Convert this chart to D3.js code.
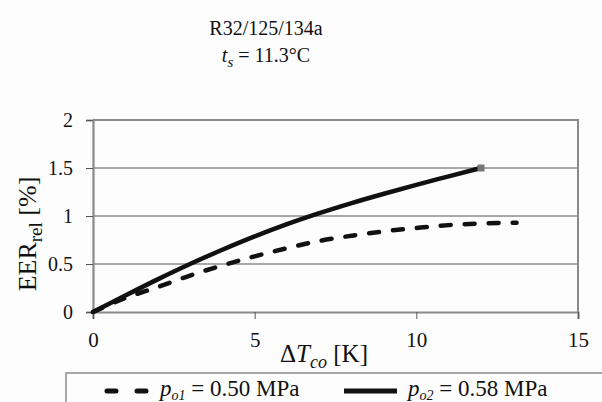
<!DOCTYPE html>
<html>
<head>
<meta charset="utf-8">
<script src="https://cdn.jsdelivr.net/npm/d3@7"></script>
<style>
  html, body { margin: 0; padding: 0; background: #fdfdfd; }
  svg, svg text { font-family: "Liberation Serif", "Times New Roman", Times, serif !important; }
</style>
</head>
<body>
<svg id="chart" width="602" height="402"></svg>
<script>
// ΔT_co [K] values and relative EER [%] for the two evaporation pressures
const dtCo1 = [0, 1, 2, 3, 4, 5, 6, 7, 8, 9, 10, 11, 12, 13.1];
const eer1  = [0, 0.145, 0.26, 0.38, 0.485, 0.58, 0.665, 0.74, 0.795, 0.84, 0.875, 0.905, 0.922, 0.93];

const dtCo2 = [0, 1, 2, 3, 4, 5, 6, 7, 8, 9, 10, 11, 12];
const eer2  = [0, 0.172, 0.34, 0.5, 0.648, 0.787, 0.915, 1.03, 1.135, 1.232, 1.325, 1.413, 1.5];

const xTicks = [0, 5, 10, 15];
const yTicks = [0, 0.5, 1, 1.5, 2];

const seriesNames = ["p_o1 = 0.50 MPa", "p_o2 = 0.58 MPa"];

const svg = d3.select("#chart");

const plot = { left: 93, right: 578, top: 120, bottom: 312 };
const x = d3.scaleLinear().domain([0, 15]).range([plot.left, plot.right]);
const y = d3.scaleLinear().domain([0, 2]).range([plot.bottom, plot.top]);

// Title
const title = svg.append("g").attr("fill", "#111").attr("font-size", 20).attr("text-anchor", "middle");
title.append("text").attr("x", 266).attr("y", 35).text("R32/125/134a");
const t2 = title.append("text").attr("x", 266).attr("y", 62);
t2.append("tspan").attr("font-style", "italic").text("t");
t2.append("tspan").attr("font-style", "italic").attr("font-size", 15).attr("dy", 5).text("s");
t2.append("tspan").attr("dy", -5).text(" = 11.3°C");

// Horizontal gridlines
svg.append("g")
  .selectAll("line")
  .data(yTicks.filter(d => d > 0 && d < 2))
  .join("line")
  .attr("x1", plot.left).attr("x2", plot.right)
  .attr("y1", d => y(d)).attr("y2", d => y(d))
  .attr("stroke", "#555").attr("stroke-width", 1);

// Plot frame (top and right)
svg.append("path")
  .attr("d", `M${plot.left},${plot.top}H${plot.right}V${plot.bottom}`)
  .attr("fill", "none").attr("stroke", "#8a8a8a").attr("stroke-width", 2);

// Y axis
const yAxis = svg.append("g")
  .attr("transform", `translate(${plot.left},0)`)
  .call(d3.axisLeft(y).tickValues(yTicks).tickSize(7).tickPadding(13).tickFormat(d3.format("")));
yAxis.attr("font-family", null);
yAxis.select(".domain").attr("stroke", "#8a8a8a").attr("stroke-width", 2.2);
yAxis.selectAll(".tick line").attr("stroke", "#555").attr("stroke-width", 1);
yAxis.selectAll(".tick text")
  .attr("font-size", 20).attr("fill", "#111")
  .attr("dy", "0.34em");

// X axis
const xAxis = svg.append("g")
  .attr("transform", `translate(0,${plot.bottom})`)
  .call(d3.axisBottom(x).tickValues(xTicks).tickSize(7).tickPadding(13).tickFormat(d3.format("")));
xAxis.attr("font-family", null);
xAxis.select(".domain").attr("stroke", "#8a8a8a").attr("stroke-width", 2.2);
xAxis.selectAll(".tick line").attr("stroke", "#555").attr("stroke-width", 1);
xAxis.selectAll(".tick text")
  .attr("font-size", 21).attr("fill", "#111")
  .attr("dy", "0.71em");

// Axis titles
const xt = svg.append("text").attr("x", 324).attr("y", 362).attr("text-anchor", "middle")
  .attr("font-size", 25).attr("fill", "#111");
xt.append("tspan").text("Δ");
xt.append("tspan").attr("font-style", "italic").text("T");
xt.append("tspan").attr("font-style", "italic").attr("font-size", 18).attr("dy", 6).text("co");
xt.append("tspan").attr("dy", -6).text(" [K]");

const yt = svg.append("text")
  .attr("transform", "translate(36,234) rotate(-90)")
  .attr("text-anchor", "middle").attr("font-size", 26).attr("fill", "#111");
yt.append("tspan").text("EER");
yt.append("tspan").attr("font-size", 19).attr("dy", 6).text("rel");
yt.append("tspan").attr("dy", -6).text(" [%]");

// Series lines
const line = d3.line().x(d => x(d[0])).y(d => y(d[1])).curve(d3.curveMonotoneX);
const data1 = dtCo1.map((v, i) => [v, eer1[i]]);
const data2 = dtCo2.map((v, i) => [v, eer2[i]]);

svg.append("path")
  .datum(data1)
  .attr("d", line)
  .attr("fill", "none").attr("stroke", "#111").attr("stroke-width", 4.5)
  .attr("stroke-dasharray", "10,14").attr("stroke-linecap", "round");

svg.append("path")
  .datum(data2)
  .attr("d", line)
  .attr("fill", "none").attr("stroke", "#111").attr("stroke-width", 4.5)
  .attr("stroke-linecap", "round");

// End marker of the solid series
const last2 = data2[data2.length - 1];
svg.append("rect")
  .attr("x", x(last2[0]) - 3.5).attr("y", y(last2[1]) - 3.5)
  .attr("width", 7).attr("height", 7).attr("fill", "#777");

// Legend
const lg = svg.append("g");
lg.append("path")
  .attr("d", "M66,402V373H610")
  .attr("fill", "none").attr("stroke", "#8a8a8a").attr("stroke-width", 1.5);

lg.append("line")
  .attr("x1", 107).attr("x2", 146).attr("y1", 391).attr("y2", 391)
  .attr("stroke", "#111").attr("stroke-width", 5)
  .attr("stroke-dasharray", "9,21").attr("stroke-linecap", "round");
lg.append("line")
  .attr("x1", 344).attr("x2", 397).attr("y1", 391).attr("y2", 391)
  .attr("stroke", "#111").attr("stroke-width", 5);

function legendLabel(xPos, name) {
  const [sym, rest] = name.split(" = ");
  const [p, sub] = sym.split("_");
  const t = lg.append("text").attr("x", xPos).attr("y", 396).attr("font-size", 23).attr("fill", "#111");
  t.append("tspan").attr("font-style", "italic").text(p);
  t.append("tspan").attr("font-style", "italic").attr("font-size", 14).attr("dy", 4).text(sub);
  t.append("tspan").attr("dy", -4).text(" = " + rest);
}
legendLabel(160, seriesNames[0]);
legendLabel(408, seriesNames[1]);
</script>
</body>
</html>
